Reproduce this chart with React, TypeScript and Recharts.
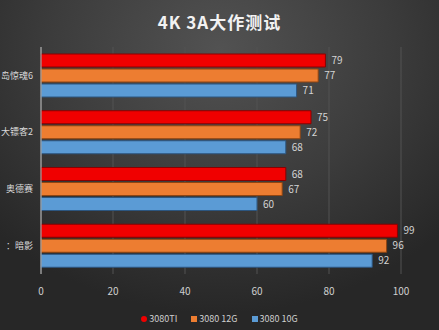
import { Bar, BarChart, CartesianGrid, LabelList, Legend, XAxis, YAxis } from "recharts";

// category labels as they show at the left edge of the picture
const games = ["岛惊魂6", "大镖客2", "奥德赛", "：暗影"];
const ti = [79, 75, 68, 99];
const g12 = [77, 72, 67, 96];
const g10 = [71, 68, 60, 92];
const xTicks = [0, 20, 40, 60, 80, 100];
const seriesNames = ["3080TI", "3080 12G", "3080 10G"];
const seriesColors = ["#f00000", "#ed7d31", "#5b9bd5"];

const data = games.map((name, i) => ({
  name,
  ti: ti[i],
  g12: g12[i],
  g10: g10[i],
}));

const font = "'Noto Sans CJK SC', 'Noto Sans', sans-serif";
const labelStyle = { fill: "#d4d4d4", fontSize: 10, fontFamily: font };

const LegendContent = () => (
  <div
    style={{
      display: "flex",
      justifyContent: "center",
      gap: 14,
      fontSize: 9,
      lineHeight: "14px",
      color: "#cfcfcf",
      fontFamily: font,
    }}
  >
    {seriesNames.map((n, i) => (
      <span key={n} style={{ display: "flex", alignItems: "center", gap: 2 }}>
        <span
          style={{
            width: 6,
            height: 6,
            background: seriesColors[i],
            borderRadius: i === 0 ? 3 : 0,
          }}
        />
        {n}
      </span>
    ))}
  </div>
);

function App() {
  return (
    <div
      style={{
        position: "absolute",
        left: 0,
        top: 0,
        width: 439,
        height: 330,
        background:
          "radial-gradient(ellipse 70% 80% at 50% 15%, #525252 0%, #3c3c3c 55%, #272727 100%)",
        fontFamily: font,
      }}
    >
      <div
        style={{
          position: "absolute",
          top: 9,
          width: "100%",
          textAlign: "center",
          color: "#f2f2f2",
          fontWeight: "bold",
          fontSize: 17,
          letterSpacing: 1,
        }}
      >
        4K 3A大作测试
      </div>
      <BarChart
        width={439}
        height={330}
        data={data}
        layout="vertical"
        margin={{ top: 47, right: 38, left: 0, bottom: 18 }}
        barGap={2}
        barSize={13}
      >
        <CartesianGrid horizontal={false} stroke="#525252" />
        <XAxis
          type="number"
          domain={[0, 100]}
          ticks={xTicks}
          axisLine={false}
          tickLine={false}
          tickMargin={8}
          height={24}
          tick={{ fill: "#cfcfcf", fontSize: 10, fontFamily: font }}
        />
        <YAxis
          type="category"
          dataKey="name"
          width={41}
          axisLine={{ stroke: "#bdbdbd" }}
          tickLine={false}
          tickMargin={2}
          tick={{ fill: "#d9d9d9", fontSize: 9, fontFamily: font }}
        />
        <Legend
          verticalAlign="bottom"
          content={<LegendContent />}
          wrapperStyle={{ top: 312, height: 14, left: 0, width: 439 }}
        />
        <Bar dataKey="ti" name={seriesNames[0]} fill={seriesColors[0]} stroke="#8a0000" isAnimationActive={false}>
          <LabelList dataKey="ti" position="right" offset={6} style={labelStyle} />
        </Bar>
        <Bar dataKey="g12" name={seriesNames[1]} fill={seriesColors[1]} stroke="#8f4512" isAnimationActive={false}>
          <LabelList dataKey="g12" position="right" offset={6} style={labelStyle} />
        </Bar>
        <Bar dataKey="g10" name={seriesNames[2]} fill={seriesColors[2]} stroke="#2c5680" isAnimationActive={false}>
          <LabelList dataKey="g10" position="right" offset={6} style={labelStyle} />
        </Bar>
      </BarChart>
    </div>
  );
}

export default App;
